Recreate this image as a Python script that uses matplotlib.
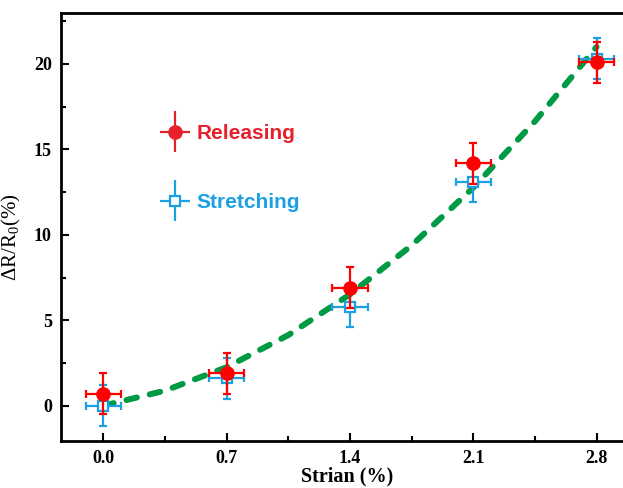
import numpy as np
import matplotlib
matplotlib.use('Agg')
import matplotlib.pyplot as plt
from matplotlib.container import ErrorbarContainer
from matplotlib.legend_handler import HandlerErrorbar

# values
strain = [0.0, 0.7, 1.4, 2.1, 2.8]
releasing = [0.7, 1.9, 6.9, 14.2, 20.1]
stretching = [0.0, 1.6, 5.8, 13.1, 20.3]
x_err = [0.1, 0.1, 0.1, 0.1, 0.1]
rel_err = [1.2, 1.2, 1.2, 1.2, 1.2]
str_err = [1.2, 1.2, 1.2, 1.2, 1.2]

fit_x = [0.0, 0.35, 0.7, 1.05, 1.4, 1.75, 2.1, 2.45, 2.8]
fit_y = [0.0, 0.88, 2.25, 4.13, 6.51, 9.38, 12.76, 16.64, 21.0]

xticks = [0.0, 0.7, 1.4, 2.1, 2.8]
yticks = [0, 5, 10, 15, 20]

plt.rcParams['mathtext.fontset'] = 'custom'
plt.rcParams['mathtext.rm'] = 'Liberation Serif'
plt.rcParams['mathtext.it'] = 'Liberation Serif:italic'

red = '#ff0000'
blue = '#1ba1e2'
green = '#009944'
red_leg = '#e6212b'

fig = plt.figure(figsize=(6.23, 4.88), dpi=100)
ax = fig.add_axes([0.0987, 0.0969, 0.9154, 0.877])

ax.plot(fit_x, fit_y, color=green, lw=4.3, ls=(0, (1.8, 2.2)),
        dash_capstyle='round', zorder=1)

ax.errorbar(strain, stretching, xerr=x_err, yerr=str_err, fmt='s', ms=7,
            mfc='white', mec=blue, mew=1.6, ecolor=blue, elinewidth=1.6,
            capsize=3, capthick=1.6, zorder=2)
ax.errorbar(strain, releasing, xerr=x_err, yerr=rel_err, fmt='o', ms=9.5,
            color=red, ecolor=red, elinewidth=1.6, capsize=3,
            capthick=1.6, zorder=3)

# legend proxies (legend drawn in a slightly different red)
h_rel = ax.errorbar([], [], xerr=[], yerr=[], fmt='o', ms=9.5, color=red_leg,
                    ecolor=red_leg, elinewidth=1.6, capsize=3, capthick=1.6)
h_str = ax.errorbar([], [], xerr=[], yerr=[], fmt='s', ms=7, mfc='white',
                    mec=blue, mew=1.6, ecolor=blue, elinewidth=1.6,
                    capsize=3, capthick=1.6)
leg = ax.legend([h_rel, h_str], ['Releasing', 'Stretching'],
                handler_map={ErrorbarContainer: HandlerErrorbar(xerr_size=0.72, yerr_size=0.99)},
                loc='upper left', bbox_to_anchor=(0.155, 0.764), frameon=False,
                numpoints=1, handlelength=1.44, handletextpad=0.3,
                labelspacing=2.4, borderpad=0,
                prop={'family': 'Liberation Sans', 'weight': 'bold', 'size': 15})
leg.get_texts()[0].set_color(red_leg)
leg.get_texts()[1].set_color(blue)

ax.set_xlim(-0.237, 3.0)
ax.set_ylim(-2.05, 23)
ax.set_xticks(xticks)
ax.set_xticklabels(['%.1f' % v for v in xticks])
ax.set_yticks(yticks)
ax.set_xticks([0.35, 1.05, 1.75, 2.45], minor=True)
ax.set_yticks([2.5, 7.5, 12.5, 17.5, 22.5], minor=True)
ax.tick_params(which='both', direction='in', width=1.5, top=False, right=False)
ax.tick_params(which='major', length=6, pad=7)
ax.tick_params(which='minor', length=3.5)
for lab in ax.get_xticklabels() + ax.get_yticklabels():
    lab.set_fontfamily('Liberation Serif')
    lab.set_fontweight('bold')
    lab.set_fontsize(13)
for s in ax.spines.values():
    s.set_linewidth(2)

ax.set_xlabel('Strian (%)', fontfamily='Liberation Serif', fontweight='bold',
              fontsize=14.5, labelpad=-0.5)
ax.set_ylabel(r'$\Delta$R/R$_0$(%)', fontfamily='Liberation Serif',
              fontsize=15)
ax.yaxis.set_label_coords(-0.0675, 0.476)

fig.savefig('out.png', dpi=100)
